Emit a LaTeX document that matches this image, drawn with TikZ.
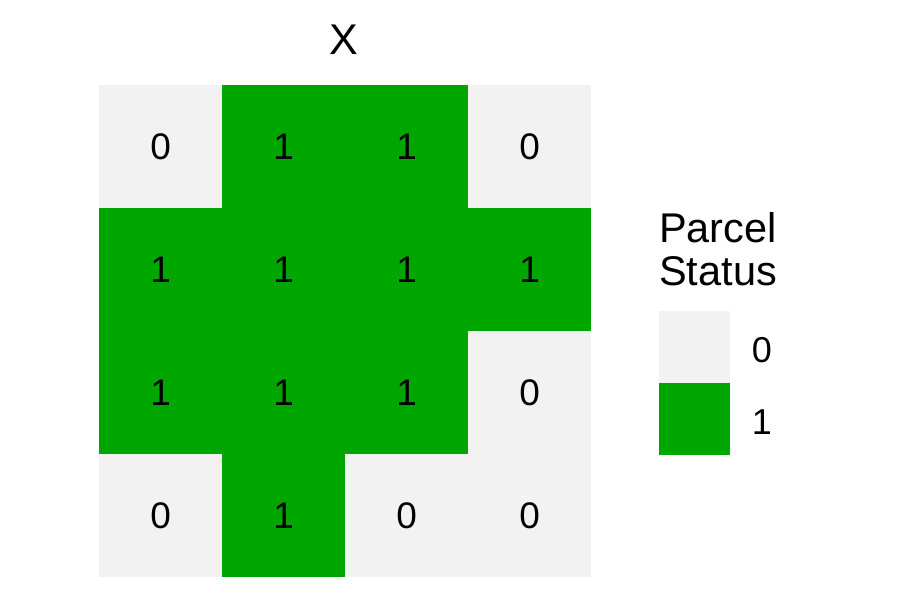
\documentclass[tikz,border=0pt]{standalone}
\usepackage{fontspec}
\setmainfont{Liberation Sans}
\usepackage{xcolor}
\usetikzlibrary{positioning}
\definecolor{parcelzero}{HTML}{F2F2F2}
\definecolor{parcelone}{HTML}{00A600}

\begin{document}
\begin{tikzpicture}[x=1pt, y=-1pt,
  cell/.style={minimum width=123.2pt, minimum height=123pt, inner sep=0pt, outer sep=0pt, anchor=north west, font=\fontsize{37}{37}\selectfont},
  key/.style={minimum width=71pt, minimum height=72pt, inner sep=0pt, outer sep=0pt},
  keylab/.style={font=\fontsize{36}{36}\selectfont, inner sep=0pt},
  ttl/.style={font=\fontsize{41.5}{41.5}\selectfont, inner sep=0pt, anchor=base west}]
  \useasboundingbox[fill=white] (0,0) rectangle (900,600);
  % grid of parcels, row by row
  \foreach \v [count=\i from 0] in {0,1,1,0, 1,1,1,1, 1,1,1,0, 0,1,0,0} {
    \pgfmathtruncatemacro{\r}{div(\i,4)}
    \pgfmathtruncatemacro{\c}{mod(\i,4)}
    \ifnum\v=1 \def\fc{parcelone}\else \def\fc{parcelzero}\fi
    \node[cell, fill=\fc] (p\r\c) at (99+123*\c, 85+123*\r) {\raisebox{-1.5pt}{\v}};
  }
  \node[font=\fontsize{43}{43}\selectfont, inner sep=0pt] (title) at (344,40) {X};
  % legend
  \node[ttl] (legA) at (659,242) {Parcel};
  \node[ttl] (legB) at (659,285) {Status};
  \node[key, fill=parcelzero, anchor=north west] (kzero) at (659,311) {};
  \node[key, fill=parcelone, below=0pt of kzero] (kone) {};
  \node[keylab] (lzero) at (762,350) {0};
  \node[keylab] (lone) at (762,422) {1};
\end{tikzpicture}
\end{document}
